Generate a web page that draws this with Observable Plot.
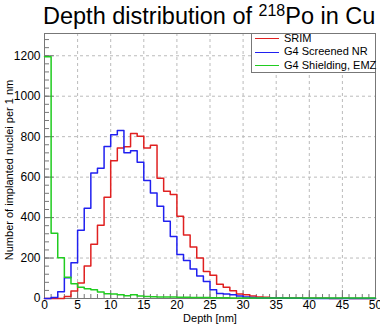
<!DOCTYPE html>
<html><head><meta charset="utf-8">
<script src="https://cdn.jsdelivr.net/npm/d3@7"></script>
<script src="https://cdn.jsdelivr.net/npm/@observablehq/plot@0.6"></script>
<style>
body{margin:0;background:#fff;font-family:"Liberation Sans",Arial,sans-serif;}
#wrap{position:relative;width:380px;height:324px;overflow:hidden;background:#fff}
#title{position:absolute;left:43px;top:4px;font-size:23.5px;white-space:nowrap;line-height:24px;color:#000}
#title sup{font-size:16px;vertical-align:0;position:relative;top:-8px}
#legend{position:absolute;left:251px;top:33px;width:125px;height:40px;background:#fff;border:1px solid #777;box-sizing:border-box;font-size:11px;color:#000}
.row{position:absolute;left:3px;height:13px;line-height:13px;white-space:nowrap}
.sw{display:inline-block;width:24px;height:0;border-top:1.5px solid;vertical-align:middle;margin-right:5px}
#xlab{position:absolute;left:0;width:420px;top:312px;font-size:11px;line-height:12px;text-align:center;color:#000}
#ylab{position:absolute;left:9px;top:170px;font-size:11px;line-height:12px;white-space:nowrap;color:#000;transform:translate(-50%,-50%) rotate(-90deg)}
</style></head><body>
<div id="wrap"><div id="chart"></div>
<div id="title">Depth distribution of <sup>218</sup>Po in Cu</div>
<div id="xlab">Depth [nm]</div>
<div id="ylab">Number of implanted nuclei per 1 nm</div>
<div id="legend"></div></div>
<script>
// bin lower edges (nm), 1 nm bins
const depthBins = [0,1,2,3,4,5,6,7,8,9,10,11,12,13,14,15,16,17,18,19,20,21,22,23,24,25,26,27,28,29,30,31,32,33,34,35,36,37,38,39,40,41,42,43,44,45,46,47,48,49];
const depthMax = 50;
const srim = [0,0,0,10,37,77,161,268,362,500,681,744,750,816,802,744,757,594,530,514,407,314,255,200,133,115,70,55,38,22,18,12,8,6,4,3,3,2,2,1,1,1,1,0,0,1,0,0,0,0];
const g4ScreenedNR = [0,5,33,103,177,338,446,620,644,752,810,830,721,731,673,583,522,456,382,306,218,188,146,111,84,43,25,22,18,12,8,5,3,3,2,2,1,1,1,0,0,0,0,0,0,0,0,0,0,0];
const g4ShieldingEMZ = [1195,322,202,105,73,55,48,43,32,23,22,18,13,19,12,10,9,8,8,7,6,6,5,5,5,4,4,4,3,3,3,3,3,3,3,2,2,2,2,2,2,2,2,2,2,2,2,2,2,3];
const seriesNames = ["SRIM","G4 Screened NR","G4 Shielding, EMZ"];
const seriesColors = ["#e02020","#2020f0","#20cc20"];
const xMajor = [0,5,10,15,20,25,30,35,40,45,50];
const xGrid = [5,10,15,20,25,30,35,40,45];
const xMinor = [0,1,2,3,4,5,6,7,8,9,10,11,12,13,14,15,16,17,18,19,20,21,22,23,24,25,26,27,28,29,30,31,32,33,34,35,36,37,38,39,40,41,42,43,44,45,46,47,48,49,50];
const yMajor = [0,200,400,600,800,1000,1200];
const yGrid = [200,400,600,800,1000,1200];
const yMinor = [0,40,80,120,160,200,240,280,320,360,400,440,480,520,560,600,640,680,720,760,800,840,880,920,960,1000,1040,1080,1120,1160,1200,1240,1280];
const yMax = 1310;

const allSeries = [srim, g4ScreenedNR, g4ShieldingEMZ];
function stepData(vals){
  const d = depthBins.map((b,i)=>({x:b,y:vals[i]}));
  d.push({x:depthMax,y:vals[vals.length-1]});
  return d;
}
const axisStroke = "#777";
const fmt = d => String(d);
const marks = [
  Plot.gridX(xGrid,{stroke:"#bbb",strokeOpacity:1,strokeDasharray:"3,3"}),
  Plot.gridY(yGrid,{stroke:"#bbb",strokeOpacity:1,strokeDasharray:"3,3"}),
  Plot.axisX(xMinor,{tickSize:-4,text:null,label:null,stroke:axisStroke}),
  Plot.axisX(xMajor,{tickSize:-8,text:null,label:null,stroke:axisStroke}),
  Plot.axisX(xMajor,{tickSize:0,tickPadding:2,fontSize:12,tickFormat:fmt,label:null,fill:"#000"}),
  Plot.axisY(yMinor,{tickSize:-5,text:null,label:null,stroke:axisStroke}),
  Plot.axisY(yMajor,{tickSize:-10,text:null,label:null,stroke:axisStroke}),
  Plot.axisY(yMajor,{tickSize:0,tickPadding:4,fontSize:12,tickFormat:fmt,label:null,fill:"#000"}),
  Plot.frame({stroke:axisStroke}),
  ...allSeries.map((s,i)=>Plot.lineY(stepData(s),{x:"x",y:"y",curve:"step-after",stroke:seriesColors[i],strokeWidth:1.5}))
];
const chart = Plot.plot({
  width:380,height:324,
  marginTop:33,marginLeft:44,marginRight:5,marginBottom:26,
  x:{domain:[0,depthMax]},
  y:{domain:[0,yMax]},
  style:{fontFamily:'"Liberation Sans",Arial,sans-serif',fontSize:"11px",color:"#000",background:"#fff"},
  marks
});
document.getElementById("chart").appendChild(chart);
const leg = document.getElementById("legend");
seriesNames.forEach((n,i)=>{
  const r = document.createElement("div");
  r.className="row";
  r.style.top = (-2.5+i*13.5)+"px";
  const sw = document.createElement("span");
  sw.className="sw"; sw.style.borderTopColor = seriesColors[i];
  r.appendChild(sw);
  r.appendChild(document.createTextNode(n));
  leg.appendChild(r);
});
</script>
</body></html>
